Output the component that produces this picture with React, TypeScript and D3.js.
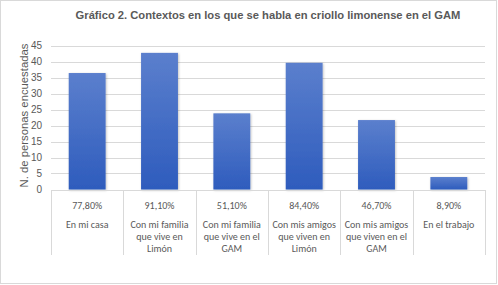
import React from "react";
import * as d3 from "d3";

const categories: string[][] = [
  ["En mi casa"],
  ["Con mi familia", "que vive en", "Limón"],
  ["Con mi familia", "que vive en el", "GAM"],
  ["Con mis amigos", "que viven en", "Limón"],
  ["Con mis amigos", "que viven en el", "GAM"],
  ["En el trabajo"],
];
const values: number[] = [36.4, 42.7, 23.8, 39.6, 21.7, 3.9];
const percents: string[] = ["77,80%", "91,10%", "51,10%", "84,40%", "46,70%", "8,90%"];
const yTicks: number[] = [0, 5, 10, 15, 20, 25, 30, 35, 40, 45];
const title = "Gráfico 2. Contextos en los que se habla en criollo limonense en el GAM";
const yTitle = "N. de personas encuestadas";

const W = 498;
const H = 285;
const left = 51;
const right = 485;
const top = 45.5;
const bottom = 189.5;

export default function App() {
  const idx = categories.map((_, i) => String(i));
  const x = d3.scaleBand<string>().domain(idx).range([left, right]).paddingInner(0).paddingOuter(0);
  const y = d3.scaleLinear().domain([0, 45]).range([bottom, top]);
  const bw = x.bandwidth();
  const barW = bw * 0.51;
  const gray = "#595959";
  const lineCol = "#d9d9d9";
  const boundaries = d3.range(categories.length + 1).map((i) => left + i * bw);
  const catFont = "Carlito, Lato, 'Liberation Sans', sans-serif";

  return (
    <svg width={W} height={H} style={{ position: "absolute", left: 0, top: 0 }}>
      <defs>
        <linearGradient id="barGrad" x1="0" y1="0" x2="0" y2="1">
          <stop offset="0%" stopColor="#5b7fcd" />
          <stop offset="100%" stopColor="#2e5cbd" />
        </linearGradient>
        <filter id="sh" x="-20%" y="-20%" width="140%" height="140%">
          <feDropShadow dx="0.8" dy="0.8" stdDeviation="0.8" floodColor="#000" floodOpacity="0.25" />
        </filter>
      </defs>
      <rect x={0.5} y={0.5} width={496} height={283} fill="#fff" stroke={lineCol} />
      <text
        x={(left + right) / 2}
        y={19}
        textAnchor="middle"
        fontFamily="'Liberation Sans', Arial, sans-serif"
        fontWeight="bold"
        fontSize={11.2}
        fill={gray}
      >
        {title}
      </text>
      {yTicks.map((t) => (
        <g key={t}>
          {t > 0 && (
            <line x1={left} x2={right} y1={Math.round(y(t)) + 0.5} y2={Math.round(y(t)) + 0.5} stroke={lineCol} strokeWidth={1} />
          )}
          <text
            x={42}
            y={y(t) + 3.5}
            textAnchor="end"
            fontFamily="'Liberation Sans', Arial, sans-serif"
            fontSize={10}
            fill={gray}
          >
            {t}
          </text>
        </g>
      ))}
      <text
        transform={`translate(28,${(top + bottom) / 2 - 2}) rotate(-90)`}
        textAnchor="middle"
        fontFamily="'Liberation Sans', Arial, sans-serif"
        fontSize={11.3}
        fill={gray}
      >
        {yTitle}
      </text>
      {values.map((v, i) => {
        const cx = (x(String(i)) as number) + bw / 2;
        return (
          <rect
            key={i}
            x={cx - barW / 2}
            y={y(v)}
            width={barW}
            height={y(0) - y(v)}
            fill="url(#barGrad)"
            filter="url(#sh)"
          />
        );
      })}
      <line x1={left} x2={right} y1={190.5} y2={190.5} stroke={lineCol} />
      {boundaries.map((b, i) => (
        <line key={i} x1={Math.round(b) + 0.5} x2={Math.round(b) + 0.5} y1={190} y2={255} stroke={lineCol} />
      ))}
      {percents.map((p, i) => {
        const cx = (x(String(i)) as number) + bw / 2;
        return (
          <text key={i} x={cx} y={208.5} textAnchor="middle" fontFamily={catFont} fontSize={10} fill={gray}>
            {p}
          </text>
        );
      })}
      {categories.map((lines, i) => {
        const cx = (x(String(i)) as number) + bw / 2;
        return (
          <text key={i} textAnchor="middle" fontFamily={catFont} fontSize={10} fill={gray}>
            {lines.map((l, j) => (
              <tspan key={j} x={cx} y={227.5 + j * 12.4}>
                {l}
              </tspan>
            ))}
          </text>
        );
      })}
    </svg>
  );
}
